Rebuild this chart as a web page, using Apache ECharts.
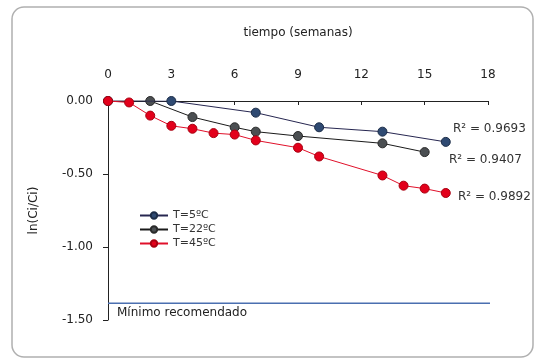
<!DOCTYPE html>
<html>
<head>
<meta charset="utf-8">
<script src="https://cdn.jsdelivr.net/npm/echarts@6/dist/echarts.min.js"></script>
<style>
html,body{margin:0;padding:0;background:#fff;}
#chart{width:538px;height:360px;}
</style>
</head>
<body>
<div id="chart"></div>
<script>
var semanas5 = [0, 3, 7, 10, 13, 16];
var valores5 = [0, 0, -0.08, -0.18, -0.21, -0.28];
var semanas22 = [0, 2, 4, 6, 7, 9, 13, 15];
var valores22 = [0, 0, -0.11, -0.18, -0.21, -0.24, -0.29, -0.35];
var semanas45 = [0, 1, 2, 3, 4, 5, 6, 7, 9, 10, 13, 14, 15, 16];
var valores45 = [0, -0.01, -0.10, -0.17, -0.19, -0.22, -0.23, -0.27, -0.32, -0.38, -0.51, -0.58, -0.60, -0.63];
var minimoX = [0, 18.5];
var minimoY = [-1.386, -1.386];
var r2Textos = ['R² = 0.9693', 'R² = 0.9407', 'R² = 0.9892'];

function pares(xs, ys) {
  return xs.map(function (x, i) { return [x, ys[i]]; });
}

var chart = echarts.init(document.getElementById('chart'));
var fuente = 'DejaVu Sans';

var option = {
  backgroundColor: '#fff',
  animation: false,
  textStyle: { fontFamily: fuente },
  grid: { left: 108, right: 50, top: 101, bottom: 40 },
  legend: {
    orient: 'vertical',
    left: 134,
    top: 205,
    itemWidth: 28,
    itemHeight: 8,
    itemGap: 3,
    textStyle: { fontSize: 11, color: '#333', fontFamily: fuente },
    data: ['T=5ºC', 'T=22ºC', 'T=45ºC']
  },
  xAxis: {
    type: 'value',
    position: 'top',
    min: 0, max: 18, interval: 3,
    name: 'tiempo (semanas)',
    nameLocation: 'middle',
    nameGap: 62,
    nameTextStyle: { fontSize: 12, color: '#222' },
    axisLine: { onZero: false, lineStyle: { color: '#222' } },
    axisTick: { inside: true, length: 4, lineStyle: { color: '#222' } },
    axisLabel: { margin: 20, fontSize: 12, color: '#222' },
    splitLine: { show: false }
  },
  yAxis: {
    type: 'value',
    min: -1.5, max: 0, interval: 0.5,
    name: 'ln(Ci/Ci)',
    nameLocation: 'middle',
    nameGap: 68,
    nameTextStyle: { fontSize: 12, color: '#222' },
    axisLine: { show: true, lineStyle: { color: '#222' } },
    axisTick: { show: true, length: 5, lineStyle: { color: '#222' } },
    axisLabel: {
      margin: 15, fontSize: 12, color: '#222',
      formatter: function (v) { return v.toFixed(2); }
    },
    splitLine: { show: false }
  },
  series: [
    {
      name: 'Mínimo',
      type: 'line',
      data: pares(minimoX, minimoY),
      symbol: 'none',
      clip: false,
      lineStyle: { color: '#4a6fb0', width: 1.5 },
      silent: true
    },
    {
      name: 'T=5ºC',
      type: 'line',
      data: pares(semanas5, valores5),
      symbol: 'circle',
      symbolSize: 9,
      itemStyle: { color: '#2f4a72', borderColor: '#1c2d48', borderWidth: 1 },
      lineStyle: { color: '#262650', width: 1 },
      z: 3
    },
    {
      name: 'T=22ºC',
      type: 'line',
      data: pares(semanas22, valores22),
      symbol: 'circle',
      symbolSize: 9,
      itemStyle: { color: '#4b4f52', borderColor: '#2a2a2a', borderWidth: 1 },
      lineStyle: { color: '#1a1a1a', width: 1 },
      z: 2
    },
    {
      name: 'T=45ºC',
      type: 'line',
      data: pares(semanas45, valores45),
      symbol: 'circle',
      symbolSize: 9,
      itemStyle: { color: '#e3001b', borderColor: '#a80010', borderWidth: 1 },
      lineStyle: { color: '#e0102a', width: 1 },
      z: 4
    }
  ],
  graphic: [
    {
      type: 'rect',
      shape: { x: 12, y: 7, width: 521, height: 350, r: 12 },
      style: { fill: 'none', stroke: '#b0b0b0', lineWidth: 1.5 },
      silent: true
    },
    { type: 'text', left: 453, top: 123, style: { text: r2Textos[0], font: '12px DejaVu Sans', fill: '#333' } },
    { type: 'text', left: 449, top: 154, style: { text: r2Textos[1], font: '12px DejaVu Sans', fill: '#333' } },
    { type: 'text', left: 458, top: 191, style: { text: r2Textos[2], font: '12px DejaVu Sans', fill: '#333' } },
    { type: 'text', left: 117, top: 307, style: { text: 'Mínimo recomendado', font: '12px DejaVu Sans', fill: '#222' } }
  ]
};

chart.setOption(option);
</script>
</body>
</html>
